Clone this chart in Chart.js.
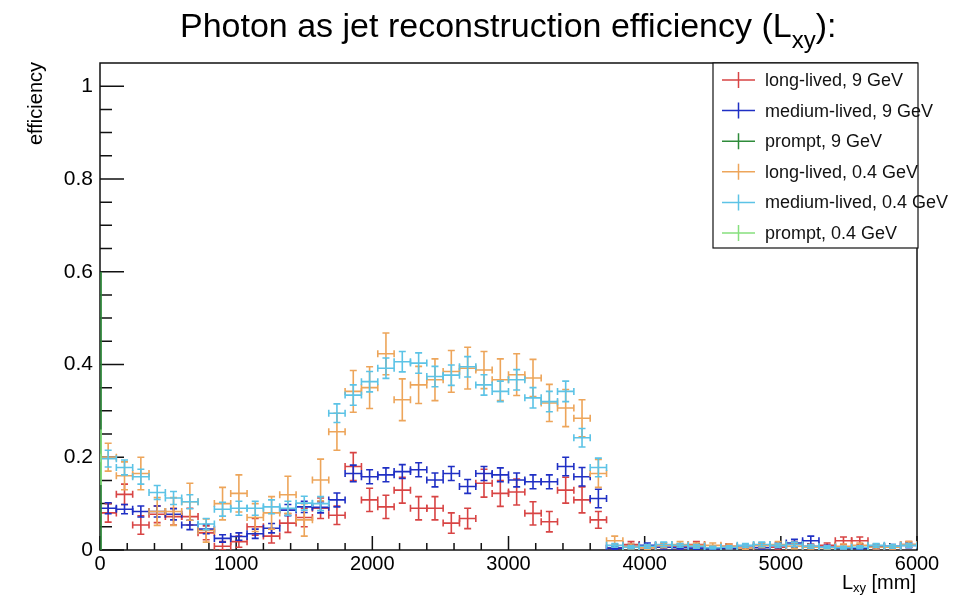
<!DOCTYPE html>
<html>
<head>
<meta charset="utf-8">
<title>Photon as jet reconstruction efficiency</title>
<script src="https://cdn.jsdelivr.net/npm/chart.js@4.4.1/dist/chart.umd.min.js"></script>
<style>
  body { margin: 0; background: #fff; }
  canvas { display: block; }
</style>
</head>
<body>
<canvas id="chart" width="964" height="595"></canvas>
<script>
// bin centres (120 mm bins)
const lxyBins = [60,180,300,420,540,660,780,900,1020,1140,1260,1380,1500,1620,1740,1860,1980,2100,2220,2340,
  2460,2580,2700,2820,2940,3060,3180,3300,3420,3540,3660,3780,3900,4020,4140,4260,4380,4500,4620,4740,
  4860,4980,5100,5220,5340,5460,5580,5700,5820,5940];
const binHalf = 60;

const longLived9 = [0.08,0.12,0.054,0.077,0.072,0.072,0.037,0.008,0.018,0.05,0.03,0.058,0.07,0.09,0.075,0.18,0.108,0.093,0.129,0.09,
  0.09,0.058,0.068,0.144,0.122,0.125,0.079,0.061,0.129,0.108,0.065,0.005,0.012,0.005,0.01,0.008,0.012,0.005,0.008,0.005,
  0.01,0.006,0.012,0.008,0.01,0.02,0.02,0.008,0.006,0.012];
const longLived9Err = [0.02,0.022,0.02,0.018,0.018,0.018,0.015,0.01,0.012,0.018,0.015,0.02,0.02,0.022,0.02,0.03,0.025,0.025,0.028,0.025,
  0.025,0.022,0.022,0.03,0.028,0.028,0.025,0.022,0.028,0.028,0.018,0.005,0.006,0.005,0.005,0.005,0.006,0.004,0.005,0.004,
  0.005,0.004,0.006,0.005,0.005,0.008,0.008,0.005,0.004,0.006];

const mediumLived9 = [0.09,0.088,0.083,0.083,0.077,0.054,0.045,0.025,0.029,0.035,0.047,0.086,0.093,0.092,0.108,0.165,0.158,0.162,0.169,0.173,
  0.151,0.165,0.137,0.165,0.162,0.151,0.147,0.147,0.18,0.158,0.111,0.004,0.008,0.01,0.006,0.005,0.004,0.003,0.004,0.006,
  0.005,0.01,0.015,0.02,0.006,0.004,0.004,0.006,0.008,0.01];
const mediumLived9Err = [0.012,0.01,0.012,0.012,0.012,0.01,0.01,0.008,0.008,0.01,0.01,0.012,0.012,0.012,0.015,0.018,0.015,0.015,0.015,0.015,
  0.015,0.015,0.015,0.015,0.015,0.015,0.015,0.015,0.02,0.02,0.02,0.003,0.004,0.005,0.004,0.003,0.003,0.003,0.003,0.004,
  0.003,0.005,0.008,0.01,0.004,0.003,0.003,0.004,0.004,0.005];

const longLived04 = [0.2,0.16,0.165,0.083,0.083,0.104,0.042,0.1,0.122,0.07,0.08,0.119,0.065,0.151,0.255,0.342,0.35,0.423,0.324,0.356,
  0.367,0.385,0.392,0.388,0.367,0.378,0.371,0.317,0.306,0.284,0.165,0.02,0.008,0.005,0.01,0.012,0.01,0.01,0.008,0.005,
  0.01,0.012,0.008,0.006,0.005,0.008,0.01,0.006,0.006,0.012];
const longLived04Err = [0.03,0.03,0.035,0.03,0.03,0.04,0.025,0.035,0.04,0.03,0.035,0.04,0.035,0.045,0.04,0.045,0.045,0.045,0.045,0.04,
  0.045,0.045,0.045,0.04,0.045,0.045,0.04,0.04,0.04,0.04,0.03,0.01,0.005,0.004,0.005,0.006,0.005,0.005,0.005,0.004,
  0.005,0.006,0.005,0.004,0.004,0.005,0.005,0.004,0.004,0.006];

const mediumLived04 = [0.197,0.178,0.158,0.124,0.112,0.104,0.056,0.088,0.09,0.09,0.093,0.09,0.101,0.1,0.295,0.334,0.363,0.392,0.406,0.403,
  0.374,0.377,0.395,0.356,0.342,0.367,0.328,0.32,0.342,0.242,0.178,0.01,0.006,0.008,0.012,0.01,0.008,0.005,0.006,0.01,
  0.012,0.01,0.012,0.008,0.006,0.005,0.006,0.01,0.008,0.01];
const mediumLived04Err = [0.018,0.016,0.016,0.015,0.014,0.015,0.012,0.015,0.015,0.015,0.015,0.015,0.015,0.015,0.02,0.022,0.022,0.022,0.022,0.022,
  0.022,0.022,0.022,0.022,0.022,0.022,0.022,0.022,0.022,0.02,0.02,0.004,0.003,0.004,0.005,0.004,0.004,0.003,0.003,0.004,
  0.005,0.004,0.005,0.004,0.003,0.003,0.003,0.004,0.004,0.004];

// prompt samples only show up on the very first sliver of L_xy
const promptBins = [8];
const prompt9 = [0.3];
const prompt9Err = [0.3];
const prompt04 = [0.2];
const prompt04Err = [0.06];

const yTicks = [0, 0.2, 0.4, 0.6, 0.8, 1];
const xTicks = [0, 1000, 2000, 3000, 4000, 5000, 6000];

const FONT = '"Liberation Sans", Arial, Helvetica, sans-serif';

function series(label, color, xs, ys, errs, half){
  return {
    label: label,
    data: xs.map((x,i)=>({x: x, y: ys[i]})),
    err: errs,
    halfWidth: half,
    borderColor: color,
    backgroundColor: color,
    pointRadius: 0,
    showLine: false
  };
}

const datasets = [
  series("long-lived, 9 GeV", "#d84444", lxyBins, longLived9, longLived9Err, binHalf),
  series("medium-lived, 9 GeV", "#1f2fc4", lxyBins, mediumLived9, mediumLived9Err, binHalf),
  series("prompt, 9 GeV", "#2e8b3a", promptBins, prompt9, prompt9Err, 0),
  series("long-lived, 0.4 GeV", "#eda55a", lxyBins, longLived04, longLived04Err, binHalf),
  series("medium-lived, 0.4 GeV", "#5cc3e6", lxyBins, mediumLived04, mediumLived04Err, binHalf),
  series("prompt, 0.4 GeV", "#86e07e", promptBins, prompt04, prompt04Err, 0)
];

// frame + inward ticks, drawn under the data like ROOT does
const frame = {
  id: "frame",
  beforeDatasetsDraw(chart){
    const ctx = chart.ctx;
    const a = chart.chartArea;
    const xs = chart.scales.x, ys = chart.scales.y;
    ctx.save();
    ctx.strokeStyle = "#111";
    ctx.lineWidth = 1.5;
    ctx.strokeRect(a.left, a.top, a.right - a.left, a.bottom - a.top);
    ctx.beginPath();
    for(let v = 0; v <= 1.0001; v += 0.05){
      const yy = ys.getPixelForValue(v);
      const major = Math.abs(v*5 - Math.round(v*5)) < 1e-6;
      ctx.moveTo(a.left, yy); ctx.lineTo(a.left + (major ? 24 : 12), yy);
    }
    for(let v = 0; v <= 6000; v += 200){
      const xx = xs.getPixelForValue(v);
      const major = v % 1000 === 0;
      ctx.moveTo(xx, a.bottom); ctx.lineTo(xx, a.bottom - (major ? 14 : 7));
    }
    ctx.stroke();
    ctx.restore();
  }
};

// ROOT-like crosses with little end lines
const errorBars = {
  id: "errorBars",
  afterDatasetsDraw(chart){
    const ctx = chart.ctx;
    const xs = chart.scales.x, ys = chart.scales.y;
    const area = chart.chartArea;
    ctx.save();
    ctx.beginPath();
    ctx.rect(area.left, area.top, area.right - area.left, area.bottom - area.top);
    ctx.clip();
    ctx.lineWidth = 1.6;
    chart.data.datasets.forEach(ds=>{
      ctx.strokeStyle = ds.borderColor;
      ds.data.forEach((p,i)=>{
        const px = xs.getPixelForValue(p.x);
        const py = ys.getPixelForValue(p.y);
        const x0 = xs.getPixelForValue(p.x - ds.halfWidth);
        const x1 = xs.getPixelForValue(p.x + ds.halfWidth);
        const yT = ys.getPixelForValue(p.y + ds.err[i]);
        const yB = ys.getPixelForValue(Math.max(0, p.y - ds.err[i]));
        const c = 3.5;
        ctx.beginPath();
        if(ds.halfWidth > 0){
          ctx.moveTo(x0, py); ctx.lineTo(x1, py);
          ctx.moveTo(x0, py - c); ctx.lineTo(x0, py + c);
          ctx.moveTo(x1, py - c); ctx.lineTo(x1, py + c);
          ctx.moveTo(px - c, yT); ctx.lineTo(px + c, yT);
          ctx.moveTo(px - c, yB); ctx.lineTo(px + c, yB);
        }
        ctx.moveTo(px, yT); ctx.lineTo(px, yB);
        ctx.stroke();
      });
    });
    ctx.restore();
  }
};

// titles and legend
const decorations = {
  id: "decorations",
  afterDraw(chart){
    const ctx = chart.ctx;
    const a = chart.chartArea;
    ctx.save();

    // title
    ctx.fillStyle = "#000";
    ctx.textBaseline = "alphabetic";
    ctx.textAlign = "left";
    ctx.font = "34px " + FONT;
    let tx = 180;
    const t1 = "Photon as jet reconstruction efficiency (L";
    ctx.fillText(t1, tx, 37);
    tx += ctx.measureText(t1).width;
    ctx.font = "24px " + FONT;
    ctx.fillText("xy", tx, 48);
    tx += ctx.measureText("xy").width;
    ctx.font = "34px " + FONT;
    ctx.fillText("):", tx, 37);

    // y axis title
    ctx.save();
    ctx.translate(42, 62);
    ctx.rotate(-Math.PI/2);
    ctx.textAlign = "right";
    ctx.font = "20px " + FONT;
    ctx.fillText("efficiency", 0, 0);
    ctx.restore();

    // x axis title
    ctx.textAlign = "right";
    ctx.font = "20px " + FONT;
    const mm = " [mm]";
    const mmW = ctx.measureText(mm).width;
    ctx.fillText(mm, 916, 589);
    ctx.font = "13px " + FONT;
    const xyW = ctx.measureText("xy").width;
    ctx.fillText("xy", 916 - mmW, 592);
    ctx.font = "20px " + FONT;
    ctx.fillText("L", 916 - mmW - xyW, 589);

    // legend
    const lx = 713, ly = a.top, lw = 205, lh = 185;
    ctx.fillStyle = "#fff";
    ctx.fillRect(lx, ly, lw, lh);
    ctx.lineWidth = 1.2;
    ctx.strokeStyle = "#111";
    ctx.strokeRect(lx, ly, lw, lh);
    ctx.font = "18px " + FONT;
    ctx.textAlign = "left";
    ctx.textBaseline = "middle";
    chart.data.datasets.forEach((ds,i)=>{
      const cy = ly + 17 + i*30.6;
      ctx.strokeStyle = ds.borderColor;
      ctx.lineWidth = 1.5;
      ctx.beginPath();
      ctx.moveTo(722, cy); ctx.lineTo(755, cy);
      ctx.moveTo(738.5, cy - 8); ctx.lineTo(738.5, cy + 8);
      ctx.stroke();
      ctx.fillStyle = "#111";
      ctx.fillText(ds.label, 765, cy + 1);
    });
    ctx.restore();
  }
};

new Chart(document.getElementById("chart"), {
  type: "scatter",
  data: { datasets: datasets },
  options: {
    responsive: false,
    devicePixelRatio: 1,
    animation: false,
    layout: { padding: { left: 0, right: 47, top: 63, bottom: 0 } },
    plugins: {
      legend: { display: false },
      title: { display: false },
      tooltip: { enabled: false }
    },
    scales: {
      x: {
        type: "linear",
        min: 0,
        max: 6000,
        afterBuildTicks: s => { s.ticks = xTicks.map(v=>({value: v})); },
        afterFit: s => { s.height = 45; },
        grid: { display: false, drawTicks: false },
        border: { display: false },
        ticks: {
          color: "#000",
          padding: 2,
          maxRotation: 0,
          font: { family: FONT, size: 20 },
          callback: v => String(v)
        }
      },
      y: {
        type: "linear",
        min: 0,
        max: 1.05,
        afterBuildTicks: s => { s.ticks = yTicks.map(v=>({value: v})); },
        afterFit: s => { s.width = 100; },
        grid: { display: false, drawTicks: false },
        border: { display: false },
        ticks: {
          color: "#000",
          padding: 7,
          font: { family: FONT, size: 21 },
          callback: v => String(Math.round(v*10)/10)
        }
      }
    }
  },
  plugins: [frame, errorBars, decorations]
});
</script>
</body>
</html>
